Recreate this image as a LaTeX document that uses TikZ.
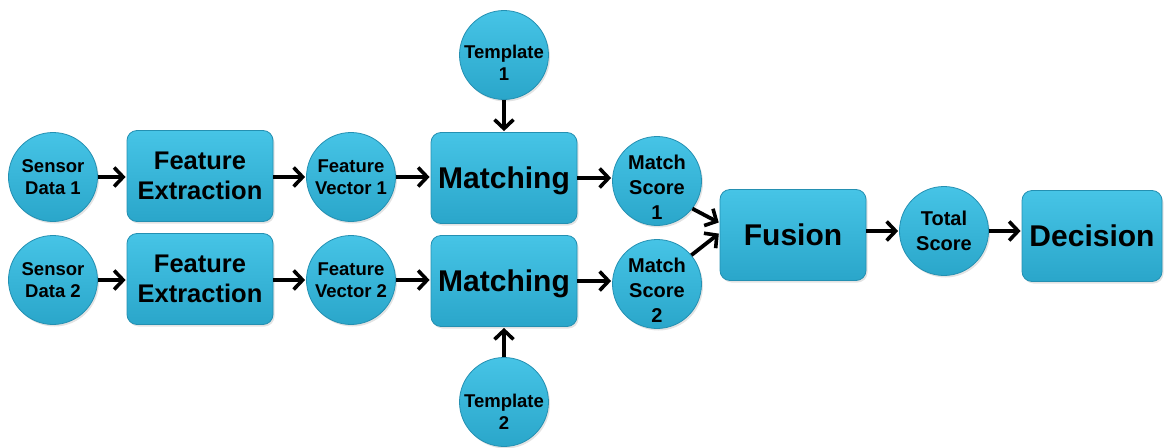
\documentclass[tikz,border=0pt]{standalone}
\usepackage{fontspec}
\setmainfont{Liberation Sans}
\usetikzlibrary{arrows.meta,shadows}
\definecolor{blockTop}{RGB}{70,196,230}
\definecolor{blockBot}{RGB}{42,166,202}
\definecolor{blockEdge}{RGB}{36,144,178}
\tikzset{
  block/.style={draw=blockEdge, line width=0.8pt, top color=blockTop, bottom color=blockBot,
    drop shadow={shadow xshift=1.5pt, shadow yshift=-2pt, opacity=0.22},
    align=center, text=black, font=\bfseries},
  procbox/.style={block, rectangle, rounded corners=10pt, minimum width=146pt, minimum height=91pt, inner sep=0pt},
  databall/.style={block, circle, minimum size=89pt, inner sep=0pt},
  caption/.style={align=center, text=black, inner sep=0pt},
  small/.style={font=\bfseries\fontsize{18.5}{22}\selectfont},
  mid/.style={font=\bfseries\fontsize{20}{25}\selectfont},
  big/.style={font=\bfseries\fontsize{30}{34}\selectfont},
  flow/.style={line width=3.8pt, -{Straight Barb[length=9pt,width=19pt,line width=3.6pt]}, shorten >=1pt}
}
\begin{document}
\begin{tikzpicture}[x=1pt,y=-1pt]
\useasboundingbox (0,0) rectangle (1164,447);

% upper channel
\node[databall, small] (s1) at (53,177) {Sensor\\Data 1};
\node[procbox, font=\bfseries\fontsize{25.5}{30}\selectfont] (fe1) at (200,176) {Feature\\Extraction};
\node[databall, small] (fv1) at (351,177) {Feature\\Vector 1};
\node[procbox] (m1) at (504,178) {};
\node[caption, big] (m1txt) at ([yshift=-3pt]m1.center) {Matching};
\node[databall] (ms1) at (657,181) {};
\node[caption, mid] (ms1txt) at ([yshift=-6pt]ms1.center) {Match\\Score\\1};
\node[databall] (t1) at (504,55) {};
\node[caption, small] (t1txt) at ([yshift=-8pt]t1.center) {Template\\1};

% lower channel
\node[databall, small] (s2) at (53,280) {Sensor\\Data 2};
\node[procbox, font=\bfseries\fontsize{25.5}{30}\selectfont] (fe2) at (200,279) {Feature\\Extraction};
\node[databall, small] (fv2) at (351,280) {Feature\\Vector 2};
\node[procbox] (m2) at (504,281) {};
\node[caption, big] (m2txt) at ([yshift=-3pt]m2.center) {Matching};
\node[databall] (ms2) at (657,284) {};
\node[caption, mid] (ms2txt) at ([yshift=-6pt]ms2.center) {Match\\Score\\2};
\node[databall] (t2) at (504,402) {};
\node[caption, small] (t2txt) at ([yshift=-10pt]t2.center) {Template\\2};

% fusion and decision
\node[procbox, big] (fus) at (793,235) {Fusion};
\node[databall, mid] (tot) at (944,231) {Total\\Score};
\node[procbox, big, minimum width=140pt] (dec) at (1092,236) {Decision};

% connectors
\draw[flow] (s1.east) -- (fe1.west |- s1.east);
\draw[flow] (fe1.east |- s1.east) -- (fv1.west);
\draw[flow] (fv1.east) -- (m1.west |- fv1.east);
\draw[flow] (m1.east) -- (ms1.west |- m1.east);
\draw[flow] (t1) -- (m1);

\draw[flow] (s2.east) -- (fe2.west |- s2.east);
\draw[flow] (fe2.east |- s2.east) -- (fv2.west);
\draw[flow] (fv2.east) -- (m2.west |- fv2.east);
\draw[flow] (m2.east) -- (ms2.west |- m2.east);
\draw[flow] (t2) -- (m2);

\draw[flow] (ms1.-38) -- ([yshift=12pt]fus.west);
\draw[flow] (ms2.40) -- ([yshift=2pt]fus.west);
\draw[flow] (fus.east |- tot.west) -- (tot.west);
\draw[flow] (tot.east) -- (dec.west |- tot.east);
\end{tikzpicture}
\end{document}
